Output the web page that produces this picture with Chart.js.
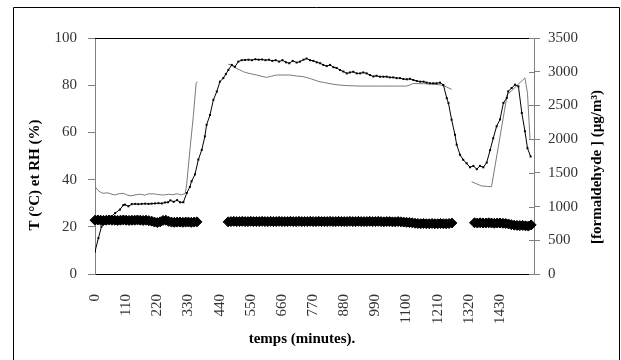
<!DOCTYPE html>
<html>
<head>
<meta charset="utf-8">
<script src="https://cdn.jsdelivr.net/npm/chart.js@4.4.0/dist/chart.umd.min.js"></script>
<style>
  body { margin: 0; background: #fff; }
</style>
</head>
<body>
<canvas id="chart" width="621" height="360"></canvas>
<script>
// x axis labels (minutes)
const timeTicks = [0, 110, 220, 330, 440, 550, 660, 770, 880, 990, 1100, 1210, 1320, 1430];

// T (°C) - diamonds, left axis
const tempTimes = [
  0, 10, 20, 30, 40, 50, 60, 70, 80, 90, 100, 110, 120, 130, 140, 150, 160, 170, 180, 190, 200,
  210, 220, 230, 240, 250, 260, 270, 280, 290, 300, 310, 320, 330, 340, 350, 360,
  470, 480, 490, 500, 510, 520, 530, 540, 550, 560, 570, 580, 590, 600, 610, 620, 630, 640, 650, 660,
  670, 680, 690, 700, 710, 720, 730, 740, 750, 760, 770, 780, 790, 800, 810, 820, 830, 840, 850, 860,
  870, 880, 890, 900, 910, 920, 930, 940, 950, 960, 970, 980, 990, 1000, 1010, 1020, 1030, 1040, 1050,
  1060, 1070, 1080, 1090, 1100, 1110, 1120,
  1130, 1140, 1150, 1160, 1170, 1180, 1190, 1200, 1210, 1220, 1230, 1240, 1250, 1260,
  1340, 1350, 1360, 1370, 1380, 1390, 1400, 1410, 1420, 1430, 1440, 1450, 1460,
  1470, 1480, 1490, 1500, 1510, 1520, 1530, 1540
];
const tempValues = [
  22.8, 22.9, 22.8, 22.7, 22.8, 22.9, 22.8, 22.8, 22.7, 22.8, 22.9, 22.8, 22.7, 22.8, 22.8, 22.9, 22.8, 22.7, 22.8, 22.6, 22.4,
  22.0, 21.8, 22.1, 22.7, 22.8, 22.3, 22.0, 21.9, 22.0, 22.0, 21.9, 22.0, 22.0, 21.9, 22.0, 22.1,
  22.1, 22.2, 22.3, 22.2, 22.2, 22.3, 22.2, 22.2, 22.3, 22.2, 22.2, 22.2, 22.3, 22.2, 22.2, 22.3, 22.2, 22.2, 22.3, 22.2,
  22.2, 22.2, 22.3, 22.2, 22.2, 22.3, 22.2, 22.2, 22.2, 22.3, 22.2, 22.2, 22.3, 22.2, 22.2, 22.2, 22.3, 22.2, 22.2, 22.3,
  22.2, 22.2, 22.2, 22.3, 22.2, 22.2, 22.3, 22.2, 22.2, 22.2, 22.3, 22.2, 22.2, 22.3, 22.2, 22.1, 22.2, 22.2, 22.1,
  22.1, 22.2, 22.1, 22.0, 21.9, 21.8, 21.7,
  21.5, 21.4, 21.3, 21.4, 21.3, 21.3, 21.4, 21.3, 21.3, 21.4, 21.3, 21.3, 21.4, 21.6,
  21.7, 21.6, 21.7, 21.6, 21.6, 21.7, 21.6, 21.5, 21.6, 21.6, 21.5, 21.4, 21.2,
  20.9, 20.7, 20.6, 20.5, 20.6, 20.4, 20.3, 20.8
];

// RH (%) - dotted black line, left axis
const rhTimes = [
  0, 12, 23, 35, 47, 59, 71, 88, 100, 106, 118, 130, 142, 153, 165, 177, 189, 200, 212, 224,
  236, 247, 258, 266, 278, 290, 300, 312, 324, 335, 341, 353, 365, 377, 388, 394, 406, 418, 430, 441,
  453, 462, 471, 483, 494, 506, 518, 530, 542, 554, 566, 578, 590, 602, 614, 626, 638, 650, 662, 674,
  686, 698, 712, 724, 736, 747, 759, 771, 783, 795, 806, 818, 830, 842, 853, 865, 877, 889, 900, 912,
  924, 936, 947, 959, 971, 983, 994, 1006, 1018, 1030, 1041, 1053, 1065, 1077, 1089, 1101, 1112, 1124, 1136, 1148,
  1160, 1171, 1183, 1194, 1206, 1218, 1230, 1242, 1248, 1259, 1271, 1277, 1289, 1300, 1312, 1324, 1336, 1348, 1359, 1371,
  1383, 1395, 1406, 1418, 1430, 1442, 1454, 1459, 1471, 1483, 1495, 1507, 1518, 1527, 1538
];
const rhValues = [
  9.5, 15.2, 20.1, 21.8, 23.2, 24.5, 25.8, 27.3, 29.2, 29.4, 28.7, 29.6, 29.7, 29.6, 29.7, 29.8, 29.7, 29.8, 29.9, 30.0,
  29.9, 30.3, 30.4, 31.2, 30.6, 31.3, 30.4, 30.4, 34.3, 36.9, 39.3, 42.2, 48.5, 52.6, 58.3, 63.2, 67.4, 73.8, 77.3, 81.5,
  83.0, 84.7, 86.5, 88.6, 87.8, 90.0, 90.6, 90.7, 90.8, 90.6, 91.0, 90.8, 90.9, 90.6, 90.8, 90.3, 90.6, 90.0, 90.6, 89.7,
  89.3, 90.3, 89.6, 90.0, 90.8, 91.3, 90.6, 90.3, 89.7, 89.3, 88.6, 88.1, 88.6, 87.6, 87.3, 86.4, 85.8, 85.0, 85.4, 85.7,
  85.0, 85.0, 85.4, 85.0, 84.3, 83.7, 84.0, 83.6, 83.6, 83.6, 83.3, 83.3, 83.0, 83.0, 82.6, 82.5, 82.7, 82.2, 81.8, 81.5,
  81.5, 81.1, 80.8, 80.8, 80.8, 81.1, 80.1, 74.5, 72.4, 65.4, 59.0, 54.8, 50.5, 48.4, 46.9, 45.2, 45.8, 44.4, 45.8, 45.2,
  47.2, 52.5, 57.5, 62.6, 65.5, 72.5, 74.6, 77.4, 78.8, 80.2, 79.5, 68.2, 60.5, 53.3, 49.8
];

// [formaldehyde] (µg/m3) - grey line, right axis (null = gap)
const hchoTimes = [
  0, 10, 20, 28, 45, 60, 70, 85, 100, 115, 127, 145, 160, 175, 187, 205, 220, 235, 246, 260,
  275, 290, 305, 319, 324, 335, 347, 357, 361,
  415,
  470, 480, 490, 500, 512, 524, 540, 555, 571, 590, 606, 620, 641, 660, 689, 710, 735, 760, 788, 810,
  840, 865, 890, 936, 1000, 1050, 1100, 1112, 1124, 1160, 1194, 1220, 1240, 1259,
  1300,
  1330, 1345, 1365, 1385, 1400, 1455, 1518, 1527, 1536
];
const hchoValues = [
  1295, 1243, 1211, 1197, 1204, 1183, 1173, 1190, 1197, 1169, 1159, 1176, 1183, 1169, 1187, 1190, 1180, 1173, 1173, 1183,
  1176, 1190, 1173, 1197, 1344, 1834, 2335, 2828, 2853,
  null,
  3112, 3102, 3070, 3049, 3025, 3000, 2979, 2965, 2951, 2930, 2916, 2930, 2951, 2951, 2951, 2937, 2927, 2899, 2857, 2839,
  2815, 2801, 2794, 2787, 2787, 2787, 2787, 2804, 2825, 2822, 2815, 2804, 2776, 2738,
  null,
  1369, 1341, 1306, 1299, 1295, 2653, 2909, 2681, 1988
];

const pairs = (xs, ys) => xs.map((x, i) => ({ x: x, y: ys[i] }));
const tickFont = { family: 'Liberation Serif', size: 15 };
const tickColor = '#333';

// frame, plot top line, inner ticks of right axis, axis titles
const decor = {
  id: 'decor',
  afterDraw(chart) {
    const ctx = chart.ctx;
    const a = chart.chartArea;
    ctx.save();
    ctx.strokeStyle = '#000';
    ctx.lineWidth = 1;
    ctx.beginPath();
    ctx.moveTo(13.5, 361); ctx.lineTo(13.5, 7.5); ctx.lineTo(619.5, 7.5); ctx.lineTo(619.5, 361);
    ctx.moveTo(a.left, a.top + 0.5); ctx.lineTo(a.right, a.top + 0.5);
    ctx.stroke();

    const y2 = chart.scales.y2;
    ctx.strokeStyle = '#808080';
    ctx.beginPath();
    y2.ticks.forEach(t => {
      const py = Math.round(y2.getPixelForValue(t.value)) + 0.5;
      ctx.moveTo(a.right - 5, py); ctx.lineTo(a.right, py);
    });
    ctx.stroke();

    ctx.fillStyle = '#000';
    ctx.font = 'bold 15px "Liberation Serif"';
    ctx.textAlign = 'center';
    ctx.textBaseline = 'middle';
    ctx.fillText('temps (minutes).', 302, 339);
    ctx.translate(35, 175);
    ctx.rotate(-Math.PI / 2);
    ctx.fillText('T (°C) et RH (%)', 0, 0);
    ctx.setTransform(1, 0, 0, 1, 0, 0);
    ctx.translate(597, 167);
    ctx.rotate(-Math.PI / 2);
    ctx.fillText('[formaldehyde ] (µg/m³)', 0, 0);
    ctx.restore();
  }
};

new Chart(document.getElementById('chart'), {
  type: 'line',
  data: {
    datasets: [
      {
        label: 'T',
        data: pairs(tempTimes, tempValues),
        yAxisID: 'y',
        showLine: false,
        pointStyle: 'rectRot',
        pointRadius: 5,
        pointBorderWidth: 1,
        pointBackgroundColor: '#000',
        pointBorderColor: '#000',
        clip: false
      },
      {
        label: 'RH',
        data: pairs(rhTimes, rhValues),
        yAxisID: 'y',
        borderColor: '#000',
        borderWidth: 1,
        pointStyle: 'rect',
        pointRadius: 1.4,
        pointBorderWidth: 0,
        pointBackgroundColor: '#000',
        pointBorderColor: '#000'
      },
      {
        label: 'HCHO',
        data: pairs(hchoTimes, hchoValues),
        yAxisID: 'y2',
        borderColor: '#7a7a7a',
        borderWidth: 1,
        pointRadius: 0,
        spanGaps: false
      }
    ]
  },
  options: {
    responsive: false,
    animation: false,
    devicePixelRatio: 1,
    layout: { padding: { top: 38, left: 0, right: 0, bottom: 0 } },
    plugins: { legend: { display: false }, tooltip: { enabled: false } },
    elements: { line: { tension: 0 } },
    scales: {
      x: {
        type: 'linear',
        min: 0,
        max: 1550,
        afterBuildTicks: s => { s.ticks = timeTicks.map(v => ({ value: v })); },
        afterFit: s => { s.height = 86; },
        grid: { display: false },
        border: { display: true, color: '#000' },
        ticks: {
          autoSkip: false, minRotation: 90, maxRotation: 90, padding: 12,
          font: tickFont, color: tickColor,
          callback: v => String(v)
        }
      },
      y: {
        position: 'left',
        min: 0,
        max: 100,
        afterFit: s => { s.width = 95; },
        grid: { drawOnChartArea: false, drawTicks: true, tickLength: 7, color: '#808080' },
        border: { color: '#808080' },
        ticks: { stepSize: 20, padding: 11, font: tickFont, color: tickColor, callback: v => String(v) }
      },
      y2: {
        position: 'right',
        min: 0,
        max: 3500,
        afterFit: s => { s.width = 87; },
        grid: { drawOnChartArea: false, drawTicks: true, tickLength: 6, color: '#808080' },
        border: { color: '#808080' },
        ticks: { stepSize: 500, padding: 8, font: tickFont, color: tickColor, callback: v => String(v) }
      }
    }
  },
  plugins: [decor]
});
</script>
</body>
</html>
